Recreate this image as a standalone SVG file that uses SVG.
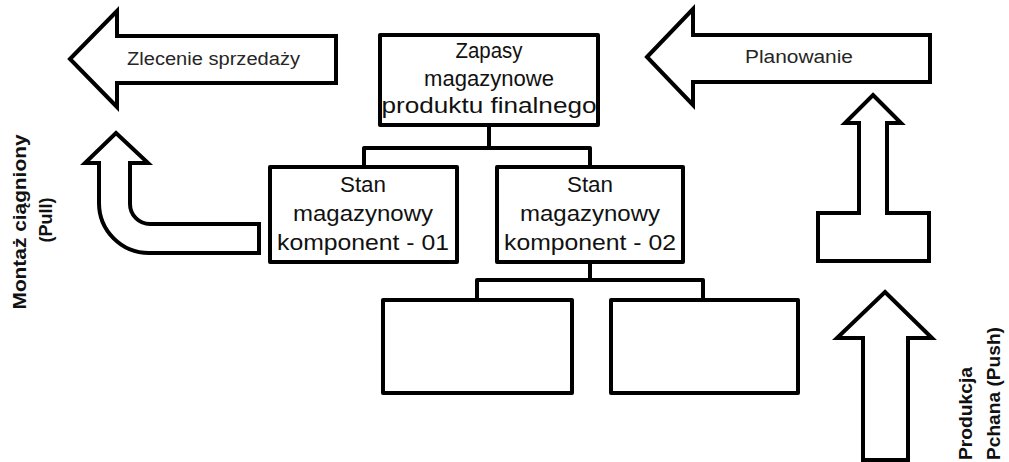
<svg xmlns="http://www.w3.org/2000/svg" width="1009" height="462" viewBox="0 0 1009 462">
<style>
.shape{fill:#fff;stroke:#000;stroke-width:4;stroke-linejoin:miter}
.box{fill:#fff;stroke:#000;stroke-width:4;stroke-linejoin:round}
.conn{fill:none;stroke:#000;stroke-width:4;stroke-linejoin:round}
.bt{font-family:"Liberation Sans",Arial,sans-serif;font-size:22px;fill:#111;text-anchor:middle}
.at{font-family:"Liberation Sans",Arial,sans-serif;font-size:18px;fill:#262626;text-anchor:middle}
.rt{font-family:"Liberation Sans",Arial,sans-serif;font-size:18px;font-weight:bold;fill:#111}
</style>
<rect width="1009" height="462" fill="#fff"/>
<g id="connectors">
<path class="conn" d="M489 125 V148 M364 167 V148 H590 V167"/>
<path class="conn" d="M590 262 V280 M477 300 V280 H703 V300"/>
</g>
<g id="arrow-zlecenie">
<polygon class="shape" points="70,59 117,11 117,36 336,36 336,83 117,83 117,107"/>
<text class="at" x="213.5" y="65" textLength="173" lengthAdjust="spacingAndGlyphs">Zlecenie sprzedaży</text>
</g>
<g id="arrow-planowanie">
<polygon class="shape" points="647,57 693,9 693,35 930,35 930,82 693,82 693,105"/>
<text class="at" x="799" y="63" textLength="108" lengthAdjust="spacingAndGlyphs">Planowanie</text>
</g>
<g id="arrow-pull">
<path class="shape" d="M116 133 L148 163 L130 163 L130 204 A20 20 0 0 0 150 224 L259 224 L259 253 L149 253 A50 50 0 0 1 99 203 L99 163 L85 163 Z"/>
</g>
<g id="label-pull">
<text class="rt" transform="translate(26,222) rotate(-90)" text-anchor="middle" textLength="175" lengthAdjust="spacingAndGlyphs">Montaż ciągniony</text>
<text class="rt" transform="translate(52,220) rotate(-90)" text-anchor="middle" textLength="45" lengthAdjust="spacingAndGlyphs">(Pull)</text>
</g>
<g id="arrow-planning-t">
<polygon class="shape" points="873,95 901,123 887,123 887,213 929,213 929,261 818,261 818,213 859,213 859,123 845,123"/>
</g>
<g id="arrow-push">
<polygon class="shape" points="885,292 932,338 908,338 908,460 863,460 863,338 837,338"/>
</g>
<g id="label-push">
<text class="rt" transform="translate(972,460) rotate(-90)" textLength="93" lengthAdjust="spacingAndGlyphs">Produkcja</text>
<text class="rt" transform="translate(1000,460) rotate(-90)" textLength="133" lengthAdjust="spacingAndGlyphs">Pchana (Push)</text>
</g>
<g id="node-zapasy">
<rect class="box" x="380" y="35" width="218" height="90"/>
<text class="bt" x="489" y="58" textLength="67" lengthAdjust="spacingAndGlyphs">Zapasy</text>
<text class="bt" x="489" y="86" textLength="130" lengthAdjust="spacingAndGlyphs">magazynowe</text>
<text class="bt" x="489" y="113" textLength="215" lengthAdjust="spacingAndGlyphs">produktu finalnego</text>
</g>
<g id="node-komp01">
<rect class="box" x="270" y="167" width="187" height="95"/>
<text class="bt" x="363" y="192" textLength="46" lengthAdjust="spacingAndGlyphs">Stan</text>
<text class="bt" x="363" y="221" textLength="140" lengthAdjust="spacingAndGlyphs">magazynowy</text>
<text class="bt" x="363" y="250" textLength="172" lengthAdjust="spacingAndGlyphs">komponent - 01</text>
</g>
<g id="node-komp02">
<rect class="box" x="497" y="167" width="186" height="95"/>
<text class="bt" x="590" y="192" textLength="46" lengthAdjust="spacingAndGlyphs">Stan</text>
<text class="bt" x="590" y="221" textLength="140" lengthAdjust="spacingAndGlyphs">magazynowy</text>
<text class="bt" x="590" y="250" textLength="172" lengthAdjust="spacingAndGlyphs">komponent - 02</text>
</g>
<g id="node-empty-1">
<rect class="box" x="383" y="300" width="189" height="93"/>
</g>
<g id="node-empty-2">
<rect class="box" x="611" y="300" width="187" height="93"/>
</g>
</svg>
